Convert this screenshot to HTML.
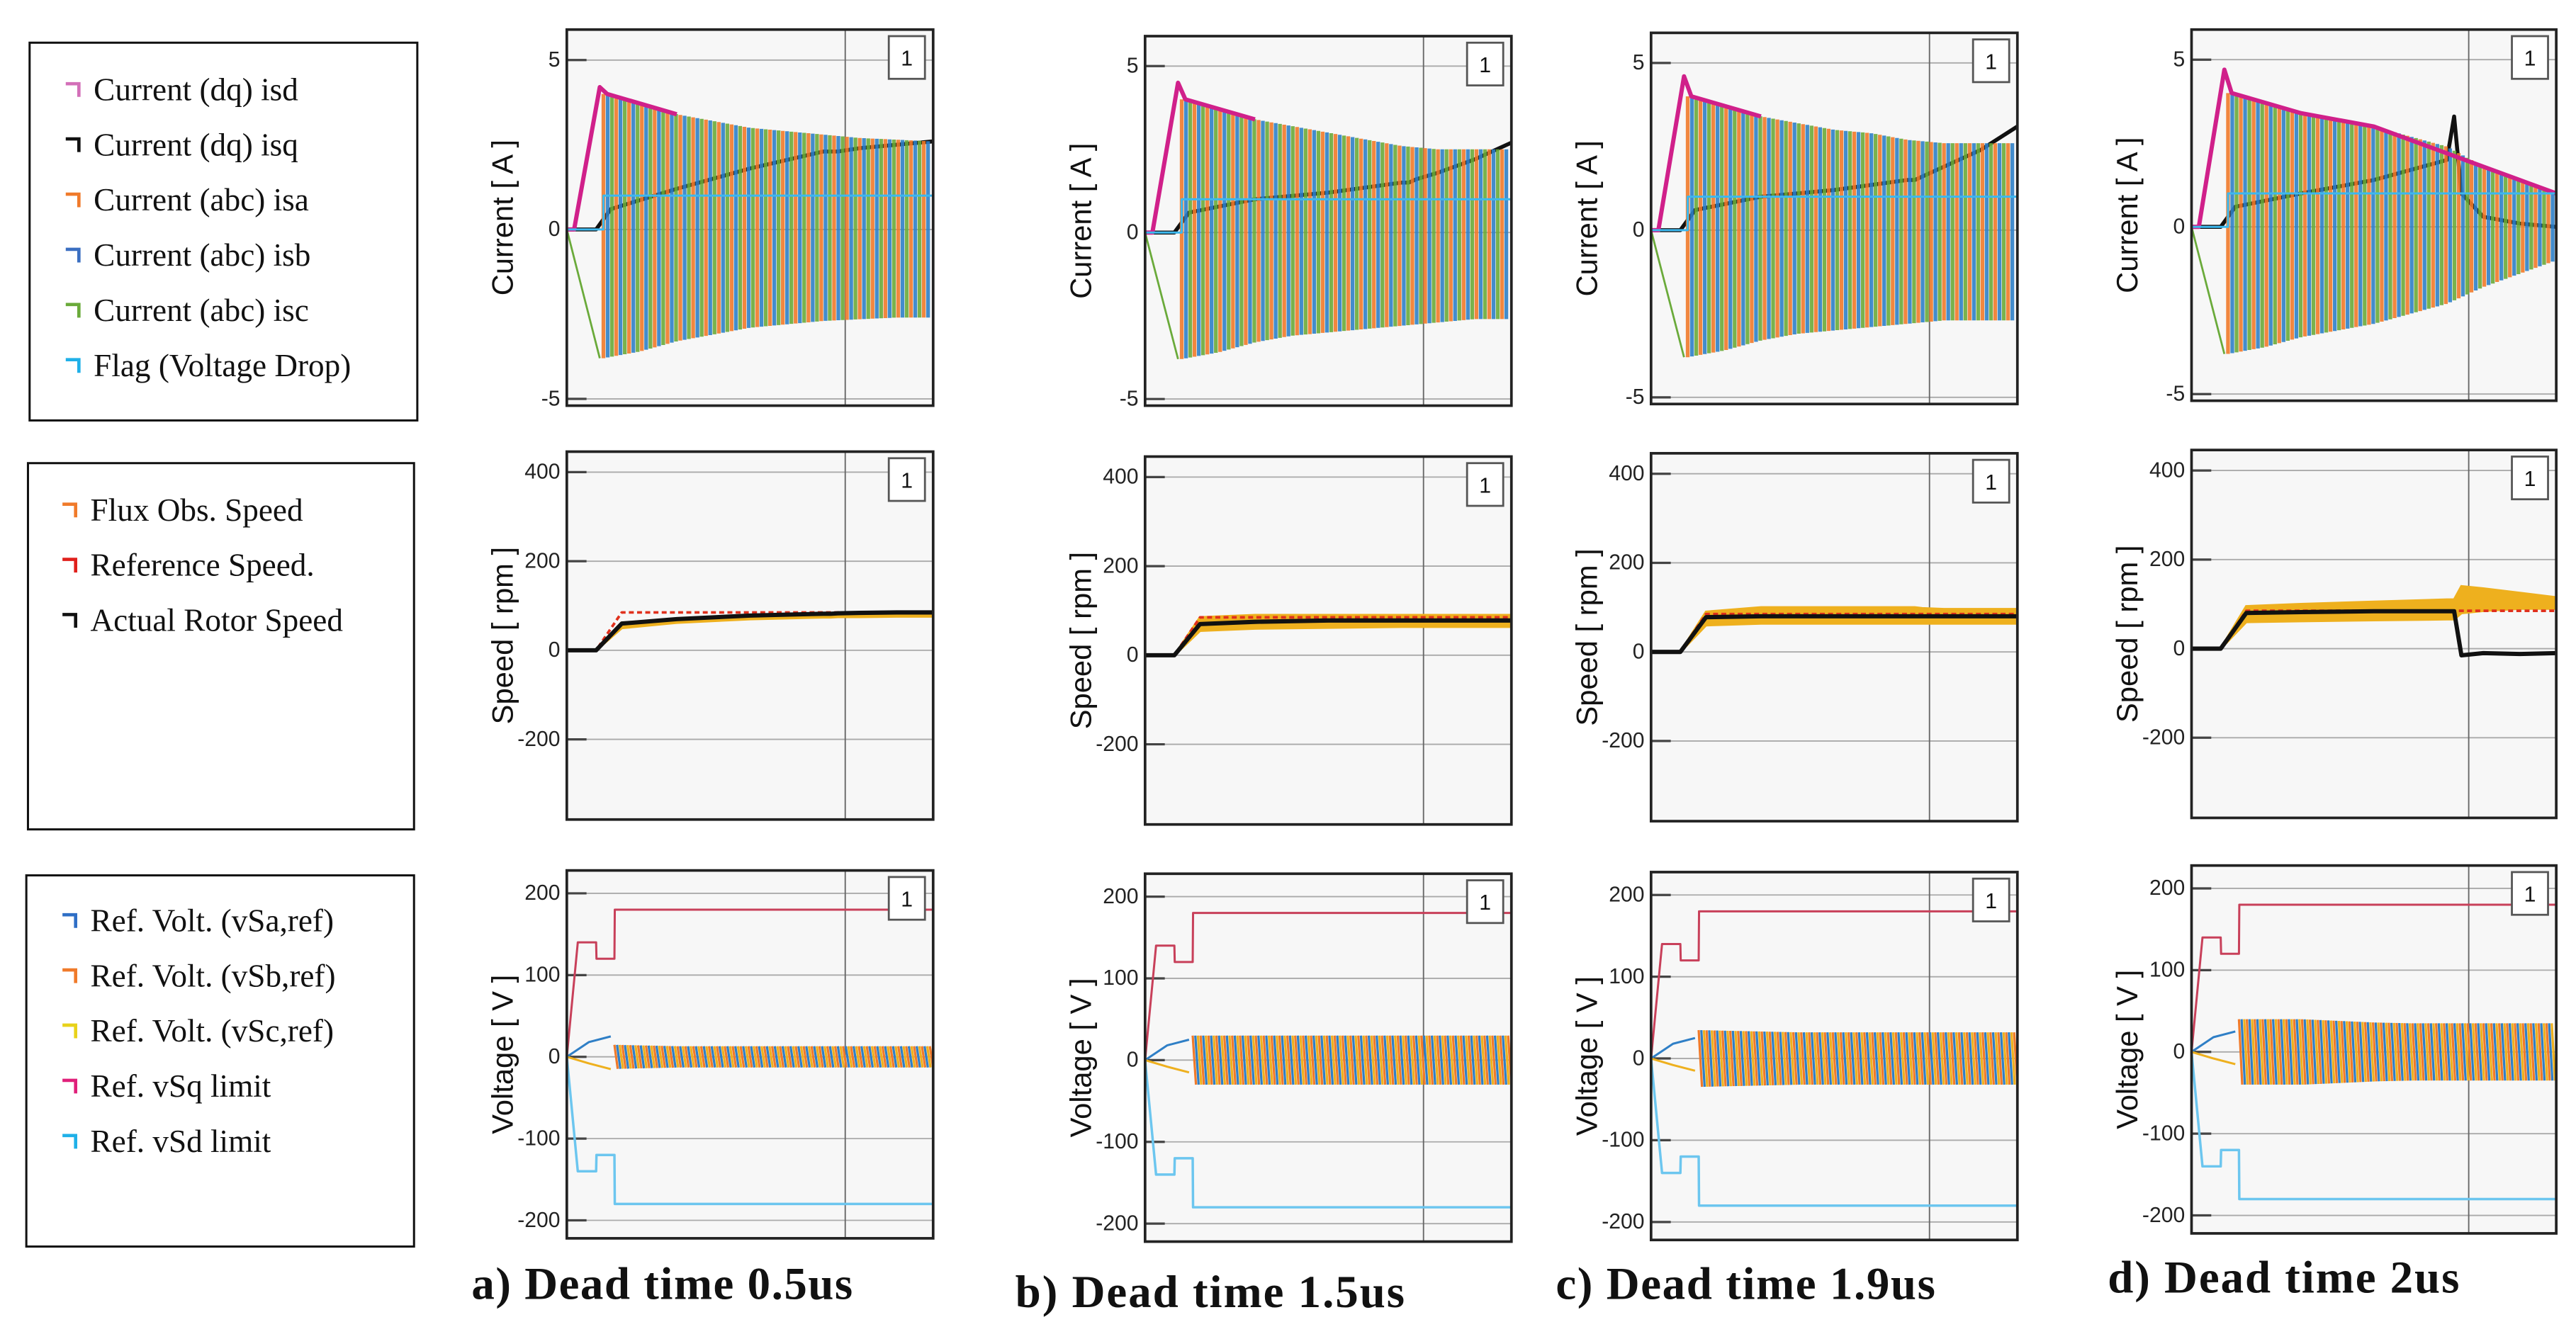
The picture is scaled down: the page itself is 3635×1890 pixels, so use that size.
<!DOCTYPE html>
<html><head><meta charset="utf-8"><style>
html,body{margin:0;padding:0;background:#fff;}
svg{display:block;}
</style></head><body>
<svg id="fig" width="3635" height="1890" viewBox="0 0 1568 815.3" xmlns="http://www.w3.org/2000/svg">
<rect x="0" y="0" width="1568" height="816" fill="#fff"/>
<g>
<rect x="18" y="26" width="236" height="230" fill="#fff" stroke="#111" stroke-width="1.3"/>
</g>
<g>
<rect x="17" y="282" width="235" height="223" fill="#fff" stroke="#111" stroke-width="1.3"/>
</g>
<g>
<rect x="16" y="533" width="236" height="226" fill="#fff" stroke="#111" stroke-width="1.3"/>
</g>
<g id="legendItems"></g>
<g id="panels"></g>
<g id="captions" font-family="'Liberation Serif',serif" font-weight="bold" font-size="28" fill="#111">
<text x="287" y="791" textLength="232">a) Dead time 0.5us</text>
<text x="618" y="796" textLength="237">b) Dead time 1.5us</text>
<text x="947" y="791" textLength="231">c) Dead time 1.9us</text>
<text x="1283" y="787" textLength="214">d) Dead time 2us</text>
</g>
</svg>
<script>
// ---------- data ----------
const legendCurrentLabels = ["Current (dq) isd","Current (dq) isq","Current (abc) isa","Current (abc) isb","Current (abc) isc","Flag (Voltage Drop)"];
const legendCurrentColors = ["#d36fb8","#111","#f07a2a","#3b6fc1","#6aaa3a","#1fb0e8"];
const legendSpeedLabels = ["Flux Obs. Speed","Reference Speed.","Actual Rotor Speed"];
const legendSpeedColors = ["#f07a2a","#e0201c","#111"];
const legendVoltLabels = ["Ref. Volt. (vSa,ref)","Ref. Volt. (vSb,ref)","Ref. Volt. (vSc,ref)","Ref. vSq limit","Ref. vSd limit"];
const legendVoltColors = ["#2f6fc6","#f07a2a","#e8d21a","#e0207a","#1fb0e8"];

const columnIds = ["a","b","c","d"];
const colX0 = [345, 697, 1005, 1334];
const colX1 = [568, 920, 1228, 1556];
const rowY = [[18,247,275,499,530,754],[22,247,278,502,532,756],[20,246,276,500,531,755],[18,244,274,498,527,751]];

const currentTicks = [5,0,-5];
const speedTicks = [400,200,0,-200];
const voltTicks = [200,100,0,-100,-200];

const envT = [0.1,0.2,0.3,0.4,0.5,0.6,0.7,0.8,0.9,1.0];
const curTop = [[4.0,3.7,3.4,3.2,3.0,2.9,2.8,2.7,2.65,2.6],[4.0,3.7,3.4,3.2,3.0,2.8,2.6,2.5,2.5,2.5],[4.0,3.7,3.4,3.2,3.0,2.9,2.7,2.6,2.6,2.6],[4.0,3.7,3.4,3.2,3.0,2.7,2.4,1.8,1.4,1.0]];
const curBot = [[-3.8,-3.6,-3.3,-3.1,-2.9,-2.8,-2.7,-2.65,-2.6,-2.6],[-3.8,-3.6,-3.3,-3.1,-3.0,-2.9,-2.8,-2.7,-2.6,-2.6],[-3.8,-3.6,-3.3,-3.1,-3.0,-2.9,-2.8,-2.7,-2.7,-2.7],[-3.8,-3.6,-3.3,-3.1,-2.9,-2.6,-2.3,-1.8,-1.4,-1.0]];
const isqT = [0,0.08,0.1,0.12,0.3,0.5,0.7,0.72,0.74,0.8,0.9,1.0];
const isqV = [[0,0,0.3,0.6,1.2,1.8,2.3,2.3,2.3,2.4,2.5,2.6],[0,0,0.3,0.6,1.0,1.2,1.5,1.5,1.6,1.8,2.2,2.7],[0,0,0.3,0.6,1.0,1.2,1.5,1.5,1.6,1.9,2.4,3.1],[0,0,0.3,0.6,1.0,1.4,2.0,3.3,1.0,0.3,0.1,0.0]];
const isdT = [0,0.02,0.09,0.11,0.3,0.5,1.0];
const isdV = [[0,0,4.2,4.0,3.4,null,null],[0,0,4.5,4.0,3.4,null,null],[0,0,4.6,4.0,3.4,null,null],[0,0,4.7,4.0,3.4,3.0,1.0]];
const flagLevel = [1,1,1,1];

const spdT = [0,0.08,0.15,0.3,0.5,0.7,0.72,0.74,0.8,0.9,1.0];
const refSpeed = [[0,0,85,85,85,85,85,85,85,85,85],[0,0,85,85,85,85,85,85,85,85,85],[0,0,85,85,85,85,85,85,85,85,85],[0,0,85,85,85,85,85,85,85,85,85]];
const actSpeed = [[0,0,60,70,78,82,82,83,84,85,85],[0,0,70,75,78,78,78,78,78,78,78],[0,0,78,80,80,80,80,80,80,80,80],[0,0,80,82,84,84,84,-15,-10,-12,-10]];
const fluxLo = [[0,0,50,62,70,74,74,75,75,76,76],[0,0,55,60,62,64,64,64,64,64,64],[0,0,60,64,64,64,64,64,64,64,64],[0,0,60,62,64,66,66,80,85,90,90]];
const fluxHi = [[0,0,62,70,78,80,80,80,80,80,80],[0,0,85,90,90,90,90,90,90,90,90],[0,0,90,100,100,100,100,98,96,96,96],[0,0,95,100,105,110,110,140,135,125,115]];

const vT = [0,0.03,0.08,0.081,0.13,0.131,1.0];
const vsqLim = [0,140,140,120,120,180,180];
const vsdLim = [0,-140,-140,-120,-120,-180,-180];
const voltAmp = [[15,14,13,13,13,13,13,13,13,13],[30,30,30,30,30,30,30,30,30,30],[35,34,33,32,32,32,32,32,32,32],[40,40,40,38,36,35,35,35,35,35]];

// ---------- helpers ----------
const NS="http://www.w3.org/2000/svg";
function mk(tag, attrs, parent){const e=document.createElementNS(NS,tag);for(const k in attrs)e.setAttribute(k,attrs[k]);parent.appendChild(e);return e;}
function interp(ts, vs, t){if(t<=ts[0])return vs[0];for(let i=1;i<ts.length;i++){if(t<=ts[i]){const f=(t-ts[i-1])/(ts[i]-ts[i-1]||1);return vs[i-1]+f*(vs[i]-vs[i-1]);}}return vs[vs.length-1];}

const lg=document.getElementById('legendItems');
function legend(labels, colors, y0, x, name){
  labels.forEach((lab,i)=>{
    const y=y0+i*33.6;
    const g=mk('g',{},lg);
    
    
    mk('path',{d:`M${x} ${y-6} h8 v8`,stroke:colors[i],'stroke-width':2,fill:'none'},g);
    const t=mk('text',{x:x+17,y:y+4,'font-family':"'Liberation Serif',serif",'font-size':19.5,fill:'#111'},g);
    t.textContent=lab;
  });
}
legend(legendCurrentLabels,legendCurrentColors,57,40,'legend-current');
legend(legendSpeedLabels,legendSpeedColors,313,38,'legend-speed');
legend(legendVoltLabels,legendVoltColors,563,38,'legend-voltage');

const panels=document.getElementById('panels');
function axes(g,x0,x1,y0,y1,ymin,ymax,ticks,ylabel){
  const ys=v=>y1-(v-ymin)/(ymax-ymin)*(y1-y0);
  mk('rect',{x:x0,y:y0,width:x1-x0,height:y1-y0,fill:'#f7f7f7'},g);
  ticks.forEach(v=>{
    mk('line',{x1:x0,x2:x1,y1:ys(v),y2:ys(v),stroke:'#aaa','stroke-width':0.8},g);
    mk('line',{x1:x0,x2:x0+12,y1:ys(v),y2:ys(v),stroke:'#444','stroke-width':1.4},g);
    const t=mk('text',{x:x0-4,y:ys(v)+4,'text-anchor':'end','font-family':"'Liberation Sans',sans-serif",'font-size':13,fill:'#222'},g);
    t.textContent=v;
  });
  const gx=x0+(x1-x0)*0.76;
  mk('line',{x1:gx,x2:gx,y1:y0,y2:y1,stroke:'#666','stroke-width':0.8},g);
  const yl=mk('text',{transform:`translate(${x0-33},${(y0+y1)/2}) rotate(-90)`,'text-anchor':'middle','font-family':"'Liberation Sans',sans-serif",'font-size':18,fill:'#111'},g);
  yl.textContent=ylabel;
  return ys;
}
function frame(g,x0,x1,y0,y1){
  mk('rect',{x:x0,y:y0,width:x1-x0,height:y1-y0,fill:'none',stroke:'#222','stroke-width':1.6},g);
  mk('rect',{x:x1-27,y:y0+4,width:22,height:26,fill:'#fff',stroke:'#555','stroke-width':1.2},g);
  const t=mk('text',{x:x1-16,y:y0+22,'text-anchor':'middle','font-family':"'Liberation Sans',sans-serif",'font-size':13,fill:'#111'},g);
  t.textContent='1';
}
function line(g,xs,ts,vs,ys,color,w,extra){
  let d='';let started=false;ts.forEach((t,i)=>{if(vs[i]===null)return;d+=(started?'L':'M')+xs(t).toFixed(2)+' '+ys(vs[i]).toFixed(2);started=true;});
  const p=mk('path',Object.assign({d,stroke:color,'stroke-width':w,fill:'none','stroke-linejoin':'round'},extra||{}),g);return p;
}

columnIds.forEach((id,c)=>{
  const x0=colX0[c],x1=colX1[c],r=rowY[c];
  const xs=t=>x0+t*(x1-x0);
  // ---- current ----
  let g=mk('g',{},panels);
  
  
  let ys=axes(g,x0,x1,r[0],r[1],-5.2,5.9,currentTicks,'Current [ A ]');
  line(g,xs,[0,0.09],[0,-3.8],ys,'#6aaa3a',1.2);
  line(g,xs,isqT,isqV[c],ys,'#111',2.4);
  const cols=['#f07a2a','#2f7fc6','#6aaa3a'];
  let k=0;
  for(let px=xs(0.1);px<x1-1;px+=2.6,k++){
    const t=(px-x0)/(x1-x0);
    const top=interp(envT,curTop[c],t),bot=interp(envT,curBot[c],t);
    mk('line',{x1:px,x2:px,y1:ys(top),y2:ys(bot),stroke:cols[k%3],'stroke-width':2.3,'stroke-opacity':0.9},g);
  }
  line(g,xs,isdT,isdV[c],ys,'#d0208a',2.6);
  line(g,xs,[0,0.1,0.1,1],[0,0,flagLevel[c],flagLevel[c]],ys,'#3cb8ee',1.3);
  frame(g,x0,x1,r[0],r[1]);
  // ---- speed ----
  g=mk('g',{},panels);
  
  
  ys=axes(g,x0,x1,r[2],r[3],-380,446,speedTicks,'Speed [ rpm ]');
  let d='';spdT.forEach((t,i)=>{d+=(i?'L':'M')+xs(t)+' '+ys(fluxHi[c][i]);});
  for(let i=spdT.length-1;i>=0;i--)d+='L'+xs(spdT[i])+' '+ys(fluxLo[c][i]);
  const fp=mk('path',{d:d+'Z',fill:'#eeb01e',stroke:'#eeb01e','stroke-width':1.5},g);
  
  line(g,xs,spdT,refSpeed[c],ys,'#e0301c',1.6,{'stroke-dasharray':'3 2'});
  line(g,xs,spdT,actSpeed[c],ys,'#111',2.6);
  frame(g,x0,x1,r[2],r[3]);
  // ---- voltage ----
  g=mk('g',{},panels);
  
  
  ys=axes(g,x0,x1,r[4],r[5],-222,228,voltTicks,'Voltage [ V ]');
  const vc=['#f07a2a','#2f7fc6','#eeb01e'];
  k=0;
  for(let px=xs(0.13);px<x1-2;px+=1.6,k++){
    const t=(px-x0)/(x1-x0);
    const a=interp(envT,voltAmp[c],t);
    mk('line',{x1:px,x2:px+2,y1:ys(a),y2:ys(-a),stroke:vc[k%3],'stroke-width':1.4},g);
  }
  line(g,xs,[0,0.06,0.12],[0,18,25],ys,'#2f7fc6',1.3);
  line(g,xs,[0,0.06,0.12],[0,-8,-15],ys,'#eeb01e',1.3);
  line(g,xs,vT,vsqLim,ys,'#c8405a',1.3);
  line(g,xs,vT,vsdLim,ys,'#6cc6ef',1.5);
  frame(g,x0,x1,r[4],r[5]);
});
</script>
</body></html>
